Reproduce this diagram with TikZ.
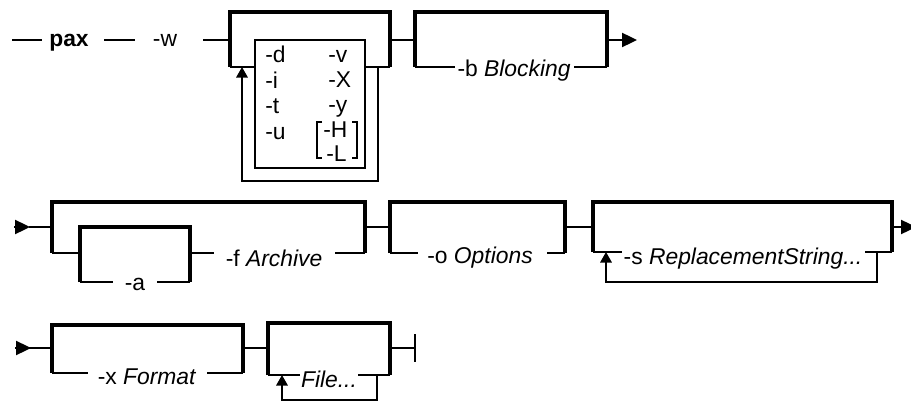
\documentclass[tikz,border=0pt]{standalone}
\usepackage{fontspec}
\setmainfont{Liberation Sans}
\usetikzlibrary{arrows.meta}

\tikzset{
  rail/.style={line width=1.1pt},
  bypass/.style={line width=2pt},
  railtip/.style={rail, -{Triangle[length=8.5pt, width=8pt]}},
  looptip/.style={rail, -{Triangle[length=6pt, width=6.5pt]}},
  lbl/.style={font=\fontsize{13}{15}\selectfont, inner sep=0pt, anchor=base},
  optl/.style={lbl, anchor=base west},
}

\begin{document}
\begin{tikzpicture}[x=0.02cm, y=-0.02cm]
    \useasboundingbox (0,0) rectangle (911,405);
    %
    % first line: pax -w
    \node[lbl, font=\fontsize{13}{15}\selectfont\bfseries] (pax) at (69,47) {pax};
    \node[lbl] (w) at (165,47) {-w};
    \draw[rail] (12,40) -- (42,40) (104,40) -- (135,40) (203,40) -- (230,40);
    %
    \draw[bypass] (230,67) -- (230,12) -- (390,12) -- (390,67);
    \draw[rail] (230,67) -- (255,67) (365,67) -- (390,67);
    \draw[rail] (255,40) rectangle (365,168);
    \draw[looptip] (378,67) -- (378,181) -- (242,181) -- (242,67);
    \node[optl] (optd) at (265,63) {-d};
    \node[optl] (opti) at (265,89) {-i};
    \node[optl] (optt) at (265,114) {-t};
    \node[optl] (optu) at (265,140) {-u};
    \node[optl] (optv) at (328,63) {-v};
    \node[optl] (optX) at (328,88) {-X};
    \node[optl] (opty) at (328,113) {-y};
    \node[optl] (optH) at (323,137) {-H};
    \node[optl] (optL) at (326,161) {-L};
    \draw[rail] (322,122) -- (317,122) -- (317,158) -- (322,158);
    \draw[rail] (352,122) -- (357,122) -- (357,158) -- (352,158);
    %
    \draw[rail] (390,40) -- (415,40);
    \draw[bypass] (415,67) -- (415,12) -- (607,12) -- (607,67);
    \node[lbl] (blocking) at (514,77) {-b \textit{Blocking}};
    \draw[rail] (415,67) -- (455,67) (574,67) -- (607,67);
    \draw[railtip] (607,40) -- (637,40);
    %
    % second line: -a -f, -o, -s
    \draw[railtip] (14,227) -- (30,227);
    \draw[rail] (29,227) -- (52,227);
    \draw[bypass] (52,253) -- (52,202) -- (365,202) -- (365,253);
    \draw[rail] (52,253) -- (80,253);
    \draw[bypass] (80,282) -- (80,227) -- (190,227) -- (190,282);
    \node[lbl] (opta) at (135,290) {-a};
    \draw[rail] (80,282) -- (113,282) (157,282) -- (190,282);
    \draw[rail] (190,253) -- (214,253);
    \node[lbl] (archive) at (274,266) {-f \textit{Archive}};
    \draw[rail] (335,253) -- (365,253);
    %
    \draw[rail] (365,227) -- (390,227);
    \draw[bypass] (390,253) -- (390,202) -- (565,202) -- (565,253);
    \node[lbl] (options) at (480,263) {-o \textit{Options}};
    \draw[rail] (390,253) -- (418,253) (547,253) -- (565,253);
    %
    \draw[rail] (565,227) -- (593,227);
    \draw[bypass] (593,252) -- (593,202) -- (892,202) -- (892,252);
    \node[lbl] (replace) at (743,264) {-s \textit{ReplacementString...}};
    \draw[rail] (593,252) -- (622,252) (865,252) -- (892,252);
    \draw[looptip] (877,252) -- (877,282) -- (606,282) -- (606,252);
    \draw[railtip] (892,227) -- (916,227);
    %
    % third line: -x, File
    \draw[railtip] (15,348) -- (31,348);
    \draw[rail] (29,348) -- (52,348);
    \draw[bypass] (52,373) -- (52,325) -- (243,325) -- (243,373);
    \node[lbl] (format) at (147,384) {-x \textit{Format}};
    \draw[rail] (52,373) -- (88,373) (207,373) -- (243,373);
    %
    \draw[rail] (243,348) -- (268,348);
    \draw[bypass] (268,375) -- (268,323) -- (390,323) -- (390,375);
    \node[lbl] (file) at (329,387) {\textit{File...}};
    \draw[rail] (268,375) -- (300,375) (358,375) -- (390,375);
    \draw[looptip] (377,375) -- (377,400) -- (282,400) -- (282,375);
    \draw[rail] (390,348) -- (415,348);
    \draw[rail] (415,334) -- (415,362);
\end{tikzpicture}
\end{document}
